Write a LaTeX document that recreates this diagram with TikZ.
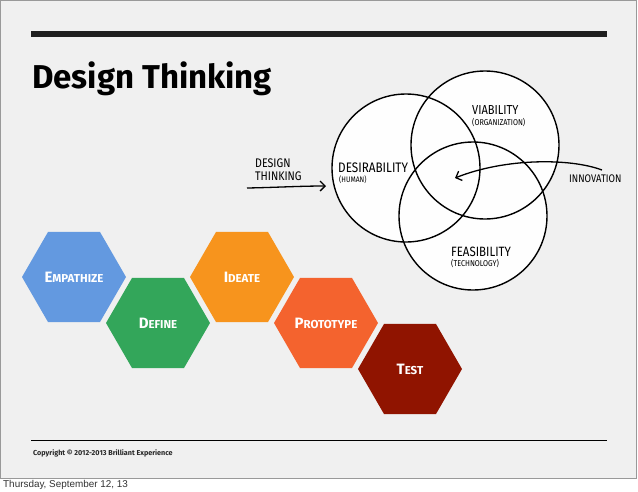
\documentclass[tikz,border=0pt]{standalone}
\usepackage{fontspec}
\setmainfont{Fira Sans}
\newfontfamily\handfont[FakeStretch=0.85]{Fira Sans}
\newfontfamily\datefont{Liberation Sans}
\usetikzlibrary{shapes.geometric,arrows.meta,positioning}

\definecolor{slidebg}{HTML}{F0F0F0}
\definecolor{hexblue}{HTML}{6399E0}
\definecolor{hexgreen}{HTML}{33A65A}
\definecolor{hexorange}{HTML}{F7941D}
\definecolor{hexred}{HTML}{F4632E}
\definecolor{hexdark}{HTML}{901400}

% fake small caps for the step labels
\newcommand{\steplabel}[2]{{\fontsize{15}{15}\selectfont #1}{\fontsize{11.5}{11.5}\selectfont #2}}

\begin{document}
\begin{tikzpicture}[x=1pt,y=-1pt]
    % styles
    \tikzset{
        venn/.style={circle, draw=black, line width=1.4pt, minimum size=148pt, inner sep=0pt},
        hexstep/.style={regular polygon, regular polygon sides=6,
            minimum size=104pt, inner sep=0pt, draw=none, text=white, font=\bfseries},
        hand/.style={anchor=west, inner sep=0pt, font=\handfont},
        sketcharrow/.style={line width=1.3pt, -{Straight Barb[length=5pt,width=10pt,line width=1.3pt]}},
    }

    % page and slide
    \fill[white] (0,0) rectangle (638,491);
    \draw[gray!80, fill=slidebg] (0.5,0.5) rectangle (636,478);
    \path[use as bounding box] (0,0) rectangle (638,491);

    % top bar and title
    \fill[black!88] (31,31) rectangle (607,37);
    \node[anchor=base west, inner sep=0pt, font=\fontsize{33}{33}\selectfont\bfseries] (title) at (32,88) {Design Thinking};

    % venn diagram: white fills first, then outlines
    \coordinate (cdes) at (406,168);
    \coordinate (cvia) at (485,145);
    \coordinate (cfea) at (473,216);
    \foreach \c in {cdes,cvia,cfea}
        \fill[white!97!slidebg] (\c) circle[radius=74pt];
    \node[venn] (desirability) at (cdes) {};
    \node[venn] (viability) at (cvia) {};
    \node[venn] (feasibility) at (cfea) {};

    % circle labels
    \node[hand, font=\handfont\fontsize{13}{13}\selectfont] (via) at (472,110.5) {VIABILITY};
    \node[hand, font=\handfont\fontsize{8.5}{9}\selectfont] (viasub) at (472,123) {(ORGANIZATION)};
    \node[hand, font=\handfont\fontsize{13.8}{14}\selectfont] (des) at (338,167.5) {DESIRABILITY};
    \node[hand, font=\handfont\fontsize{8}{9}\selectfont] (dessub) at (339,179.5) {(HUMAN)};
    \node[hand, font=\handfont\fontsize{13.5}{14}\selectfont] (fea) at (451,251.5) {FEASIBILITY};
    \node[hand, font=\handfont\fontsize{8.5}{9}\selectfont] (feasub) at (451,264) {(TECHNOLOGY)};

    % side notes and arrows
    \node[hand, align=left, font=\handfont\fontsize{12.5}{13}\selectfont] (dt) at (255,170) {DESIGN\\THINKING};
    \node[hand, font=\handfont\fontsize{11}{11}\selectfont] (innov) at (569,178.5) {INNOVATION};
    \coordinate (dttail) at (247,188);
    \coordinate (dthead) at (326,186);
    \coordinate (innovtail) at (602,170);
    \coordinate (centre) at (455,178);
    \draw[sketcharrow] (dttail) .. controls (275,187.5) and (300,186) .. (dthead);
    \draw[sketcharrow] (innovtail) .. controls (570,158) and (505,158) .. (centre);

    % design process hexagons
    \node[hexstep, fill=hexblue] (empathize) at (74,277) {\steplabel{E}{MPATHIZE}};
    \node[hexstep, fill=hexgreen] (define) at (158,323) {\steplabel{D}{EFINE}};
    \node[hexstep, fill=hexorange] (ideate) at (242,277) {\steplabel{I}{DEATE}};
    \node[hexstep, fill=hexred] (prototype) at (326,323) {\steplabel{P}{ROTOTYPE}};
    \node[hexstep, fill=hexdark] (test) at (410,369) {\steplabel{T}{EST}};

    % footer
    \draw[line width=1pt] (31,440) -- (607,440);
    \node[anchor=west, inner sep=0pt, font=\fontsize{7.2}{8}\selectfont\bfseries, text=black!85] (copy) at (33,453) {Copyright \textcopyright{} 2012-2013 Brilliant Experience};
    \node[anchor=west, inner sep=0pt, font=\datefont\fontsize{9.9}{10}\selectfont, text=black!80] (date) at (3,485) {Thursday, September 12, 13};
\end{tikzpicture}
\end{document}
